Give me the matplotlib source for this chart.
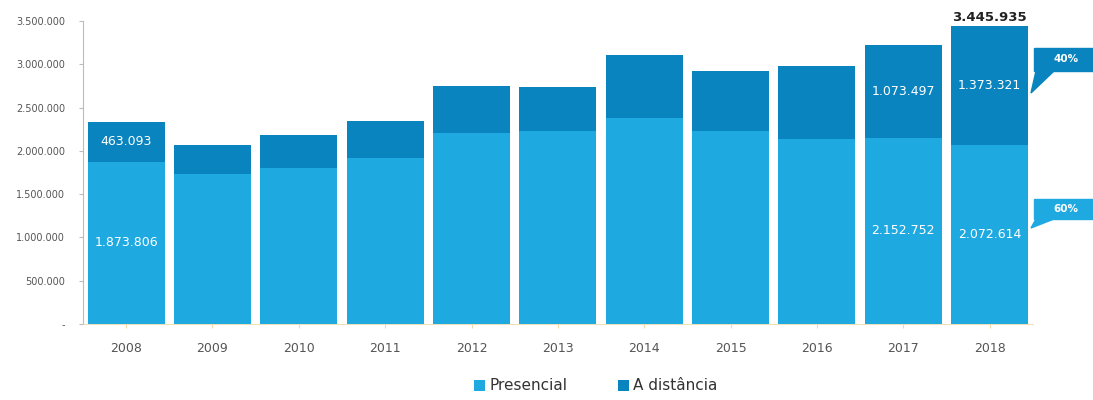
import numpy as np
import matplotlib
matplotlib.use("Agg")
import matplotlib.pyplot as plt
from matplotlib.patches import Polygon, Rectangle

anos = ["2008", "2009", "2010", "2011", "2012", "2013", "2014", "2015", "2016", "2017", "2018"]
presencial = [1873806, 1732613, 1801901, 1915098, 2204456, 2227545, 2383110, 2225663, 2142463, 2152752, 2072614]
distancia = [463093, 332469, 380328, 431597, 542633, 515405, 727738, 694559, 843181, 1073497, 1373321]
# which bars get value labels
rotulados = [0, 9, 10]

cor_pres = "#1fa9e1"
cor_dist = "#0a84be"

def fmt(v):
    return "{:,}".format(int(v)).replace(",", ".")

fig = plt.figure(figsize=(10.93, 4.0), dpi=100)
ax = fig.add_axes([0.0759, 0.19, 0.869, 0.7575])

x = np.arange(len(anos))
pres = np.array(presencial)
dist = np.array(distancia)
tot = pres + dist

ax.bar(x, pres, width=0.89, color=cor_pres, label="Presencial")
ax.bar(x, dist, width=0.89, bottom=pres, color=cor_dist, label="A distância")

for i in rotulados:
    ax.text(x[i], pres[i] / 2, fmt(pres[i]), ha="center", va="center",
            color="white", fontsize=9)
    ax.text(x[i], pres[i] + dist[i] / 2, fmt(dist[i]), ha="center", va="center",
            color="white", fontsize=9)
ax.text(x[-1], tot[-1] + 20000, fmt(tot[-1]), ha="center", va="bottom",
        color="#222222", fontsize=9.5, fontweight="bold")

ax.set_xlim(-0.5, len(anos) - 0.5)
ax.set_ylim(0, 3500000)
ax.set_xticks(x)
ax.set_xticklabels(anos, fontsize=9, color="#555555")
yt = np.arange(0, 3500001, 500000)
ax.set_yticks(yt)
ax.set_yticklabels(["-"] + [fmt(v) for v in yt[1:]], fontsize=7, color="#555555")
ax.tick_params(axis="y", length=3, color="#bbbbbb", pad=10)
ax.tick_params(axis="x", length=3, color="#f0d8a8", pad=10)
for s in ["top", "right"]:
    ax.spines[s].set_visible(False)
ax.spines["left"].set_color("#bbbbbb")
ax.spines["bottom"].set_color("#f0d8a8")
ax.spines["bottom"].set_linewidth(0.6)

# callouts with shares for 2018
pct_dist = dist[-1] / tot[-1] * 100
pct_pres = pres[-1] / tot[-1] * 100
W, H = 1093.0, 400.0
def fx(px):
    return px / W
def fy(py):
    return 1 - py / H

for pct, cor, y0, y1, tip in [(pct_dist, cor_dist, 48, 71, 93), (pct_pres, cor_pres, 199, 219, 228)]:
    fig.patches.append(Rectangle((fx(1034), fy(y1)), fx(1093) - fx(1034), fy(y0) - fy(y1),
                                 transform=fig.transFigure, color=cor))
    fig.patches.append(Polygon([(fx(1036), fy(y1)), (fx(1054), fy(y1)), (fx(1031), fy(tip))],
                               closed=True, transform=fig.transFigure, color=cor))
    fig.text(fx(1066), fy((y0 + y1) / 2), "{:.0f}%".format(pct), ha="center", va="center",
             color="white", fontsize=7.5, fontweight="bold")

leg = fig.legend(loc="center", bbox_to_anchor=(596 / W, 1 - 386 / H), ncol=2, frameon=False,
                 fontsize=11, handlelength=0.7, handleheight=0.7, handletextpad=0.3,
                 columnspacing=3.3)
for t in leg.get_texts():
    t.set_color("#333333")

fig.savefig("out.png", dpi=100)
